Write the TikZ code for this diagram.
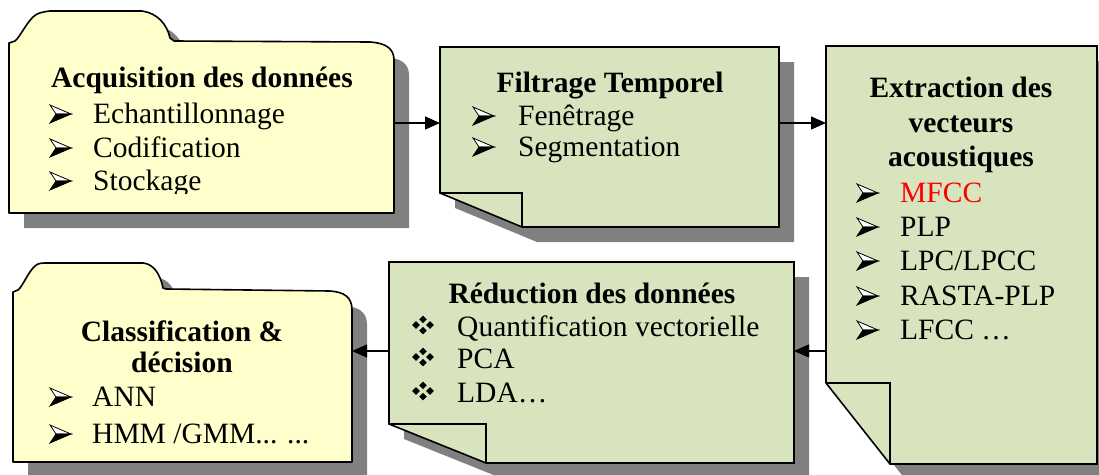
\documentclass[tikz,border=0pt]{standalone}
\usepackage{fontspec}
\setmainfont{Liberation Serif}
\usetikzlibrary{arrows.meta}

\definecolor{notegreen}{RGB}{215,228,189}
\definecolor{folderyellow}{RGB}{255,255,204}
\definecolor{shadowgray}{RGB}{128,128,128}

% outlines of the five boxes (units: 1pt, y pointing down)
\newcommand\acqshape{(9,213) -- (9,43) -- (15,41)
  .. controls (20,37) and (25,25) .. (33,17)
  .. controls (37,13) and (42,12) .. (50,11) -- (142,11)
  .. controls (157,13) and (167,24) .. (170,38) -- (174,41) -- (370,42)
  .. controls (385,43) and (394,48) .. (394,60) -- (394,213) -- cycle}
\newcommand\clsshape{(13,462) -- (13,292) -- (18,290)
  .. controls (23,286) and (28,272) .. (35,266)
  .. controls (38,263) and (42,263) .. (47,263) -- (143,263)
  .. controls (153,264) and (160,273) .. (163,288) -- (166,289) -- (330,291)
  .. controls (344,292) and (352,297) .. (352,310) -- (352,462) -- cycle}
\newcommand\filshape{(440,47) -- (779,47) -- (779,227) -- (522,227) -- (440,193) -- cycle}
\newcommand\extshape{(826,46) -- (1097,46) -- (1097,464) -- (890,464) -- (826,383) -- cycle}
\newcommand\redshape{(389,262) -- (794,262) -- (794,463) -- (486,463) -- (389,424) -- cycle}

\tikzset{
  folder/.style={fill=folderyellow, draw=black, line width=1.6pt, line join=round},
  note/.style={fill=notegreen, draw=black, line width=1.6pt, line join=miter},
  foldline/.style={draw=black, line width=1.6pt},
  boxshadow/.style={fill=shadowgray, shift={(15,15)}},
  area/.style={inner sep=0pt, outer sep=0pt, draw=none, minimum width=#1},
  ttl/.style={font=\fontsize{29.5}{34}\selectfont\bfseries, inner sep=0pt, anchor=base},
  txt/.style={font=\fontsize{29.5}{34}\selectfont, inner sep=0pt, anchor=base west},
  arr/.style={line width=1.3pt, -{Triangle[length=15pt,width=13pt]}},
  arrowbullet/.pic={
    \filldraw[fill=white, draw=black, line width=0.8pt, line join=miter]
      (0,-18) -- (21,-9) -- (6,-9) -- cycle;
    \filldraw[fill=black, draw=black, line width=0.8pt, line join=miter]
      (6,-9) -- (21,-9) -- (0,0) -- cycle;
  },
  diamondbullet/.pic={
    \foreach \dx/\dy in {-7/0, 7/0, 0/-5.6, 0/5.6}
      \fill ({\dx-3.8},\dy) -- (\dx,{\dy-3.8}) -- ({\dx+3.8},\dy) -- (\dx,{\dy+3.8}) -- cycle;
  },
}

\begin{document}
\begin{tikzpicture}[x=1pt, y=-1pt]
\useasboundingbox (0,0) rectangle (1099,474);

% areas used as connector ends
\node[area=385pt, minimum height=170pt] (acq) at (201.5,127) {};
\node[area=339pt, minimum height=180pt] (fil) at (609.5,137) {};
\node[area=271pt, minimum height=418pt] (ext) at (961.5,255) {};
\node[area=405pt, minimum height=201pt] (red) at (591.5,362.5) {};
\node[area=339pt, minimum height=170pt] (cls) at (182.5,377) {};
\coordinate (row1) at (0,123);
\coordinate (row2) at (0,351);

% Acquisition des données
\fill[boxshadow] \acqshape;
\path[folder] \acqshape;
\begin{scope}
  \clip (0,0) rectangle (400,193);
  \node[ttl] (acqT) at (202,87) {Acquisition des données};
  \pic at (50,123) {arrowbullet};
  \node[txt] (acq1) at (93,123) {Echantillonnage};
  \pic at (50,157) {arrowbullet};
  \node[txt] (acq2) at (93,157) {Codification};
  \pic at (50,190) {arrowbullet};
  \node[txt] (acq3) at (93,190) {Stockage};
\end{scope}

% Filtrage Temporel
\fill[boxshadow] \filshape;
\path[note] \filshape;
\draw[foldline] (440,193) -- (522,193) -- (522,227);
\node[ttl] (filT) at (610,92) {Filtrage Temporel};
\pic at (473,125) {arrowbullet};
\node[txt] (fil1) at (518,125) {Fenêtrage};
\pic at (473,156) {arrowbullet};
\node[txt] (fil2) at (518,156) {Segmentation};

% Extraction des vecteurs acoustiques
\fill[boxshadow] \extshape;
\path[note] \extshape;
\draw[foldline] (826,383) -- (890,383) -- (890,464);
\node[ttl] (extT1) at (961,97) {Extraction des};
\node[ttl] (extT2) at (961,132) {vecteurs};
\node[ttl] (extT3) at (961,166) {acoustiques};
\pic at (857,202) {arrowbullet};
\node[txt, text=red] (ext1) at (900,202) {MFCC};
\pic at (857,236) {arrowbullet};
\node[txt] (ext2) at (900,236) {PLP};
\pic at (857,270) {arrowbullet};
\node[txt] (ext3) at (900,270) {LPC/LPCC};
\pic at (857,305) {arrowbullet};
\node[txt] (ext4) at (900,305) {RASTA-PLP};
\pic at (857,339) {arrowbullet};
\node[txt] (ext5) at (900,339) {LFCC …};

% Réduction des données
\fill[boxshadow] \redshape;
\path[note] \redshape;
\draw[foldline] (389,424) -- (486,424) -- (486,463);
\node[ttl] (redT) at (592,303) {Réduction des données};
\pic at (423,325) {diamondbullet};
\node[txt] (red1) at (457,336) {Quantification vectorielle};
\pic at (423,357) {diamondbullet};
\node[txt] (red2) at (457,368) {PCA};
\pic at (423,391) {diamondbullet};
\node[txt] (red3) at (457,402) {LDA…};

% Classification & décision
\fill[boxshadow] \clsshape;
\path[folder] \clsshape;
\node[ttl] (clsT1) at (182,341) {Classification \&};
\node[ttl] (clsT2) at (182,372) {décision};
\pic at (50,406) {arrowbullet};
\node[txt] (cls1) at (92,406) {ANN};
\pic at (50,443) {arrowbullet};
\node[txt] (cls2) at (92,443) {HMM /GMM... ...};

% flow between the stages
\draw[arr] (acq.east |- row1) -- (fil.west |- row1);
\draw[arr] (fil.east |- row1) -- (ext.west |- row1);
\draw[arr] (ext.west |- row2) -- (red.east |- row2);
\draw[arr] (red.west |- row2) -- (cls.east |- row2);
\end{tikzpicture}
\end{document}
